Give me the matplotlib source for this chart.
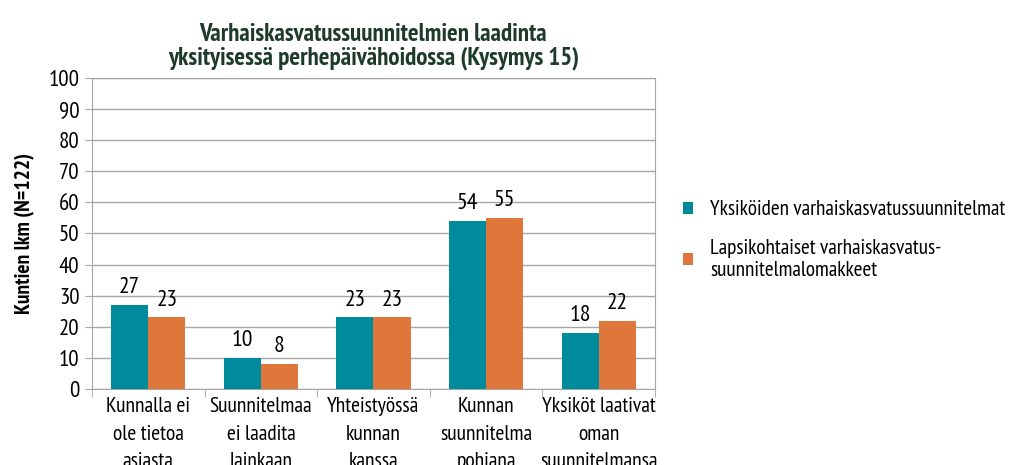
import matplotlib

matplotlib.use("Agg")
import matplotlib.pyplot as plt
import numpy as np

# Data
categories = [
    "Kunnalla ei\nole tietoa\nasiasta",
    "Suunnitelmaa\nei laadita\nlainkaan",
    "Yhteistyössä\nkunnan\nkanssa",
    "Kunnan\nsuunnitelma\npohjana",
    "Yksiköt laativat\noman\nsuunnitelmansa",
]
yksikot = [27, 10, 23, 54, 18]
lapsikohtaiset = [23, 8, 23, 55, 22]
series_labels = [
    "Yksiköiden varhaiskasvatussuunnitelmat",
    "Lapsikohtaiset varhaiskasvatus-\nsuunnitelmalomakkeet",
]

plt.rcParams["font.family"] = ["PT Sans Narrow", "DejaVu Sans"]

teal = "#008B9C"
orange = "#E0773A"
grid_c = "#A6A6A6"

fig = plt.figure(figsize=(10.13, 4.65), dpi=100)
ax = fig.add_axes([0.0908, 0.1634, 0.5558, 0.6689])

x = np.arange(len(categories))
w = 0.33
b1 = ax.bar(x - w / 2, yksikot, w, color=teal, label=series_labels[0], zorder=3)
b2 = ax.bar(x + w / 2, lapsikohtaiset, w, color=orange, label=series_labels[1], zorder=3)
ax.bar_label(b1, padding=5, fontsize=17)
ax.bar_label(b2, padding=5, fontsize=17)

ax.set_xlim(-0.5, len(categories) - 0.5)
ax.set_ylim(0, 100)
ax.set_yticks(range(0, 101, 10))
ax.yaxis.grid(True, color=grid_c, linewidth=1, zorder=0)
for s in ax.spines.values():
    s.set_color(grid_c)

# category labels between boundary ticks
ax.set_xticks(x)
ax.set_xticklabels(categories, fontsize=15.5, linespacing=1.55)
ax.tick_params(axis="x", length=0, pad=6)
ax.set_xticks(np.arange(-0.5, len(categories), 1), minor=True)
ax.tick_params(axis="x", which="minor", length=6, color=grid_c)
ax.tick_params(axis="y", length=5, color=grid_c, labelsize=16.5, pad=4)

ax.set_ylabel("Kuntien lkm (N=122)", fontsize=15.5, fontweight="bold", labelpad=10)

ax.set_title(
    "Varhaiskasvatussuunnitelmien laadinta\nyksityisessä perhepäivähoidossa (Kysymys 15)",
    fontsize=18,
    fontweight="bold",
    color="#1E3B2A",
    pad=10,
    linespacing=1.0,
)

fig.legend(
    handles=[b1, b2],
    labels=series_labels,
    loc="upper left",
    bbox_to_anchor=(0.655, 0.61),
    frameon=False,
    fontsize=15.3,
    handlelength=0.5,
    handleheight=0.5,
    handletextpad=0.8,
    labelspacing=0.9,
)

fig.savefig("out.png", dpi=100)
